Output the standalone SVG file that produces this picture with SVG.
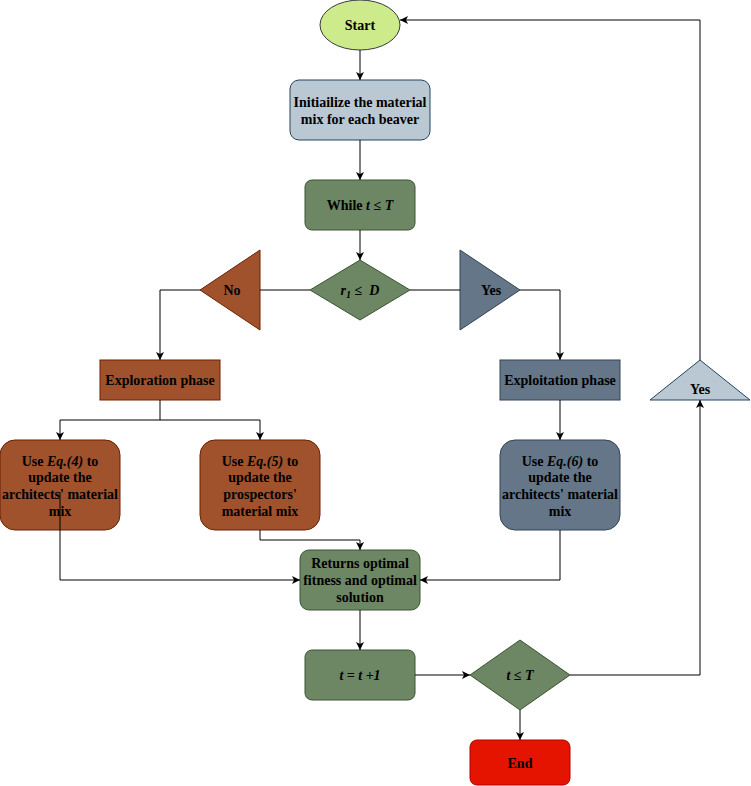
<svg xmlns="http://www.w3.org/2000/svg" width="751" height="786" viewBox="0 0 751 786">
<style>
.t{font-family:"Liberation Serif","Times New Roman",serif;font-size:14px;font-weight:bold;fill:#000;text-anchor:middle}
.i{font-style:italic}
.c{fill:none;stroke:#000;stroke-width:1}
.a{marker-end:url(#arr)}
.brown{fill:#a0522d;stroke:#6d1f00}
.slate{fill:#647687;stroke:#314354}
.green{fill:#6d8764;stroke:#3a5431}
.light{fill:#bac8d3;stroke:#23445d}
</style>
<defs>
<marker id="arr" markerUnits="userSpaceOnUse" markerWidth="10" markerHeight="10" refX="8" refY="4" orient="auto">
<path d="M0,0 L8,4 L0,8 L2,4 z" fill="#000"/>
</marker>
</defs>
<rect width="751" height="786" fill="#fff"/>
<g id="start">
<ellipse cx="360" cy="25" rx="40" ry="25" fill="#cdeb8b" stroke="#36393d"/>
<text class="t" x="360" y="30">Start</text>
</g>
<g id="init">
<rect x="290" y="80" width="140" height="60" rx="9" class="light"/>
<text class="t" x="360" y="107">Initiailize the material</text>
<text class="t" x="360" y="124">mix for each beaver</text>
</g>
<g id="while">
<rect x="305" y="180" width="110" height="50" rx="7" class="green"/>
<text class="t" x="360" y="210">While <tspan class="i">t</tspan> ≤ <tspan class="i">T</tspan></text>
</g>
<g id="cond">
<polygon points="360,260 410,290 360,320 310,290" class="green"/>
<text class="t" x="360" y="295"><tspan class="i">r</tspan><tspan class="i" font-size="10" dy="3">1</tspan><tspan dy="-3"> ≤&#160; </tspan><tspan class="i">D</tspan></text>
</g>
<g id="no">
<polygon points="260,250 200,290 260,330" class="brown"/>
<text class="t" x="232" y="295">No</text>
</g>
<g id="yes1">
<polygon points="460,250 520,290 460,330" class="slate"/>
<text class="t" x="491" y="295">Yes</text>
</g>
<g id="exploration">
<rect x="100" y="360" width="120" height="40" class="brown"/>
<text class="t" x="160" y="385">Exploration phase</text>
</g>
<g id="exploitation">
<rect x="500" y="360" width="120" height="40" class="slate"/>
<text class="t" x="560" y="385">Exploitation phase</text>
</g>
<g id="eq4">
<rect x="0" y="440" width="120" height="90" rx="15" class="brown"/>
<text class="t" x="60" y="466">Use <tspan class="i">Eq.(4)</tspan> to</text>
<text class="t" x="60" y="482">update the</text>
<text class="t" x="60" y="499">architects' material</text>
<text class="t" x="60" y="516">mix</text>
</g>
<g id="eq5">
<rect x="200" y="440" width="120" height="90" rx="15" class="brown"/>
<text class="t" x="260" y="466">Use <tspan class="i">Eq.(5)</tspan> to</text>
<text class="t" x="260" y="482">update the</text>
<text class="t" x="260" y="499">prospectors'</text>
<text class="t" x="260" y="516">material mix</text>
</g>
<g id="eq6">
<rect x="500" y="440" width="120" height="90" rx="15" class="slate"/>
<text class="t" x="560" y="466">Use <tspan class="i">Eq.(6)</tspan> to</text>
<text class="t" x="560" y="482">update the</text>
<text class="t" x="560" y="499">architects' material</text>
<text class="t" x="560" y="516">mix</text>
</g>
<g id="returns">
<rect x="300" y="550" width="120" height="60" rx="9" class="green"/>
<text class="t" x="360" y="568">Returns optimal</text>
<text class="t" x="360" y="585">fitness and optimal</text>
<text class="t" x="360" y="602">solution</text>
</g>
<g id="incr">
<rect x="305" y="650" width="110" height="50" rx="7" class="green"/>
<text class="t i" x="360" y="680">t = t +1</text>
</g>
<g id="cond2">
<polygon points="520,640 570,675 520,710 470,675" class="green"/>
<text class="t i" x="520" y="680">t ≤ T</text>
</g>
<g id="end">
<rect x="470" y="740" width="100" height="45" rx="7" fill="#e51400" stroke="#b20000"/>
<text class="t" x="520" y="768">End</text>
</g>
<g id="yes2">
<polygon points="650,400 700,360 750,400" class="light"/>
<text class="t" x="700" y="394">Yes</text>
</g>
<g id="connectors">
<path class="c a" d="M360,50 V80"/>
<path class="c a" d="M360,140 V180"/>
<path class="c a" d="M360,230 V260"/>
<path class="c" d="M310,290 H260"/>
<path class="c a" d="M200,290 H160 V360"/>
<path class="c" d="M410,290 H460"/>
<path class="c a" d="M520,290 H560 V360"/>
<path class="c a" d="M160,400 V420 H60 V440"/>
<path class="c a" d="M160,420 H260 V440"/>
<path class="c a" d="M560,400 V440"/>
<path class="c a" d="M260,530 V540 H360 V550"/>
<path class="c a" d="M60,492 V580 H300"/>
<path class="c a" d="M560,530 V580 H420"/>
<path class="c a" d="M360,610 V650"/>
<path class="c a" d="M415,675 H470"/>
<path class="c a" d="M520,710 V740"/>
<path class="c a" d="M570,675 H700 V400"/>
<path class="c a" d="M700,360 V20 H400"/>
</g>
</svg>
